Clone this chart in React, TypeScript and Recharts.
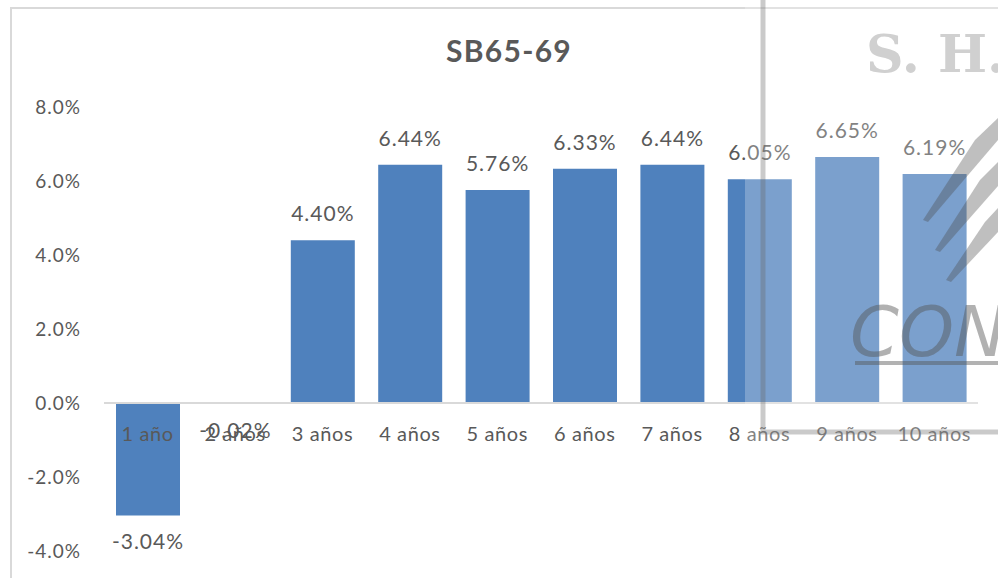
import React from 'react';
import { BarChart, Bar, XAxis, YAxis, ReferenceLine, LabelList } from 'recharts';

const categories = ['1 año', '2 años', '3 años', '4 años', '5 años', '6 años', '7 años', '8 años', '9 años', '10 años'];
const returns = [-3.04, -0.02, 4.4, 6.44, 5.76, 6.33, 6.44, 6.05, 6.65, 6.19];
const yTicks = [-4, -2, 0, 2, 4, 6, 8];
const title = 'SB65-69';

const data = categories.map((name, i) => ({ name, value: returns[i] }));

const FONT = 'Lato, "Open Sans", sans-serif';
const GREY = '#595959';

// category labels sit just under the zero line, not at the bottom of the plot
const CategoryTick = (props: any) => {
	const { x, y, payload } = props;
	return (
		<text x={x} y={y - 118} textAnchor="middle" fill={GREY} fontSize={20} letterSpacing={0.6} fontFamily={FONT}>
			{payload.value}
		</text>
	);
};

const ValueLabel = (props: any) => {
	const { x, y, width, value } = props;
	const cx = x + width / 2;
	const neg = value < 0;
	// for negative bars recharts gives y at the far end and a negative height
	const ty = neg ? y + 34 : y - 19;
	return (
		<text x={cx} y={ty} textAnchor="middle" fill={GREY} fontSize={21} letterSpacing={1} fontFamily={FONT}>
			{value.toFixed(2)}%
		</text>
	);
};

const Watermark = () => (
	<svg width={998} height={578} style={{ position: 'absolute', left: 0, top: 0, pointerEvents: 'none' }}>
		{/* washed area over the right part */}
		<rect x={745} y={0} width={253} height={445} fill="#ffffff" opacity={0.25} />
		<polyline points="763,0 763,432 998,432" fill="none" stroke="#666" strokeWidth={5} opacity={0.35} />
		<text x={866} y={72} fontFamily='"DejaVu Serif", serif' fontWeight="bold" fontSize={52} fill="#d0d0d0">
			S. H.
		</text>
		<g fill="#4a4a4a" opacity={0.35}>
			<polygon points="923,220 975,140 998,118 998,140 928,222" />
			<polygon points="935,250 980,180 998,162 998,186 940,252" />
			<polygon points="946,280 985,222 998,208 998,232 951,282" />
		</g>
		<text x={850} y={356} fontFamily='"DejaVu Sans", sans-serif' fontStyle="italic" fontWeight={300} fontSize={70} fill="#555" opacity={0.45}>
			CON
		</text>
		<rect x={855} y={361} width={143} height={4} fill="#555" opacity={0.45} />
	</svg>
);

export default function App() {
	return (
		<div style={{ position: 'absolute', left: 0, top: 0, width: 998, height: 578, background: '#ffffff', overflow: 'hidden' }}>
			<div style={{ position: 'absolute', left: 10, top: 7, width: 1000, height: 600, borderLeft: '2px solid #d9d9d9', borderTop: '2px solid #d9d9d9' }} />
			<div style={{ position: 'absolute', left: 0, top: 32, width: 998, textAlign: 'center', paddingLeft: 20, boxSizing: 'border-box' }}>
				<span style={{ fontFamily: FONT, fontWeight: 'bold', fontSize: 30, letterSpacing: 1.3, color: GREY }}>{title}</span>
			</div>
			<div style={{ position: 'absolute', left: 0, top: 0 }}>
				<BarChart width={998} height={578} data={data} margin={{ top: 107, right: 20, bottom: 0, left: 0 }}>
					<YAxis
						type="number"
						domain={[-4, 8]}
						ticks={yTicks}
						width={104}
						axisLine={false}
						tickLine={false}
						tickMargin={17}
						tickFormatter={(v: number) => `${v.toFixed(1)}%`}
						tick={{ fill: GREY, fontSize: 19, fontFamily: FONT, letterSpacing: 1 }}
					/>
					<XAxis dataKey="name" height={27} axisLine={false} tickLine={false} interval={0} tick={<CategoryTick />} />
					<ReferenceLine y={0} stroke="#d9d9d9" strokeWidth={2} />
					<Bar dataKey="value" fill="#4f81bd" barSize={64} isAnimationActive={false}>
						<LabelList dataKey="value" content={<ValueLabel />} />
					</Bar>
				</BarChart>
			</div>
			<Watermark />
		</div>
	);
}
